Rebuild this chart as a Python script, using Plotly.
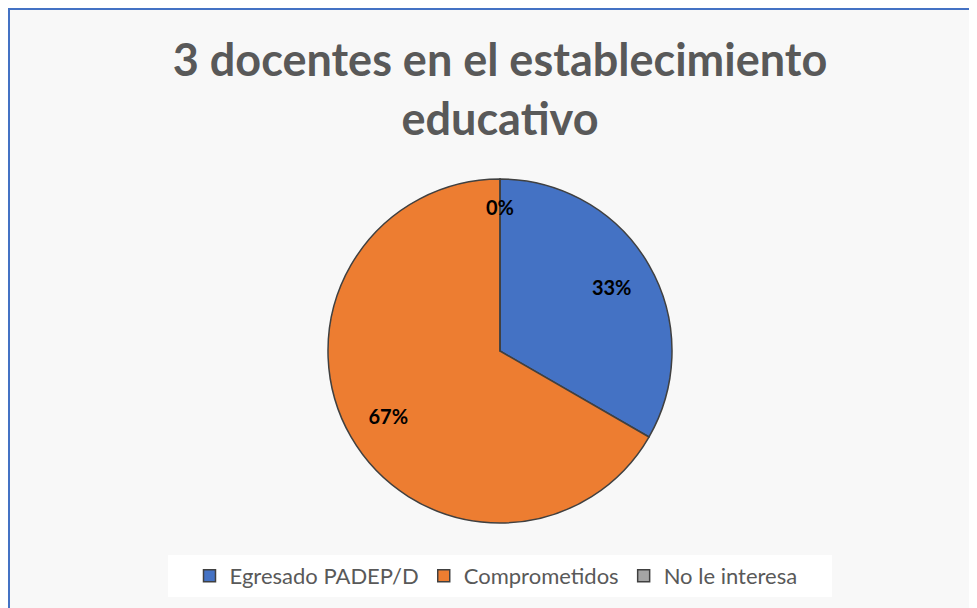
import plotly.graph_objects as go

# data
labels = ["Egresado PADEP/D", "Comprometidos", "No le interesa"]
values = [1, 2, 0]
colors = ["#4472C4", "#ED7D31", "#A5A5A5"]
title_text = "3 docentes en el establecimiento<br>educativo"

W, H = 977, 608
FONT = "Lato, Open Sans, sans-serif"
OFF = 8  # page body margin of the html page

# pie geometry (pixels, in figure space)
cx, cy, r = 500 - OFF, 351 - OFF, 172
dom_x = [(cx - 300) / W, (cx + 300) / W]
dom_y = [1 - (cy + r) / H, 1 - (cy - r) / H]

fig = go.Figure()

# main pie (no text)
fig.add_trace(
    go.Pie(
        labels=labels,
        values=values,
        sort=False,
        direction="clockwise",
        rotation=0,
        marker=dict(colors=colors, line=dict(color="#404040", width=1.5)),
        textinfo="none",
        domain=dict(x=dom_x, y=dom_y),
        showlegend=True,
    )
)

# transparent ring on top, only to carry the percentage labels further out
fig.add_trace(
    go.Pie(
        labels=labels,
        values=values,
        sort=False,
        direction="clockwise",
        rotation=0,
        hole=0.5,
        marker=dict(colors=["rgba(0,0,0,0)"] * 3, line=dict(width=0)),
        texttemplate="<b>%{percent:.0%}</b>",
        textposition="inside",
        insidetextorientation="horizontal",
        textfont=dict(family=FONT, size=20, color="black"),
        domain=dict(x=dom_x, y=dom_y),
        showlegend=False,
        hoverinfo="skip",
    )
)

# zero slice label (plotly does not draw text for a zero slice)
total = sum(values)
for lab, v in zip(labels, values):
    if v == 0:
        fig.add_annotation(
            x=cx / W, y=1 - (cy - 0.92 * r) / H, xref="paper", yref="paper",
            text="<b>%d%%</b>" % round(100 * v / total), showarrow=False,
            font=dict(family=FONT, size=20, color="black"),
        )

# chart area frame (light background with blue border)
fig.add_shape(
    type="rect", xref="paper", yref="paper",
    x0=1 / W, y0=-0.05, x1=1.05, y1=1 - 1 / H,
    line=dict(color="#4472C4", width=2),
    fillcolor="#F8F8F8", layer="below",
)
# white legend box
fig.add_shape(
    type="rect", xref="paper", yref="paper",
    x0=(168 - OFF) / W, x1=(832 - OFF) / W,
    y0=1 - (597 - OFF) / H, y1=1 - (555 - OFF) / H,
    line=dict(width=0), fillcolor="white", layer="below",
)

fig.update_layout(
    width=W, height=H,
    margin=dict(l=0, r=0, t=0, b=0, autoexpand=False),
    paper_bgcolor="white",
    plot_bgcolor="white",
    title=dict(
        text="<b>" + title_text + "</b>",
        x=cx / W, xanchor="center",
        y=1 - 68 / H, yanchor="middle",
        font=dict(family=FONT, size=45, color="#595959"),
    ),
    legend=dict(
        orientation="h",
        x=(cx - 4) / W, xanchor="center",
        y=1 - (576 - OFF) / H, yanchor="middle",
        bgcolor="rgba(0,0,0,0)",
        font=dict(family=FONT, size=22, color="#595959"),
        itemwidth=30,
    ),
)

fig.write_html("out.html")
